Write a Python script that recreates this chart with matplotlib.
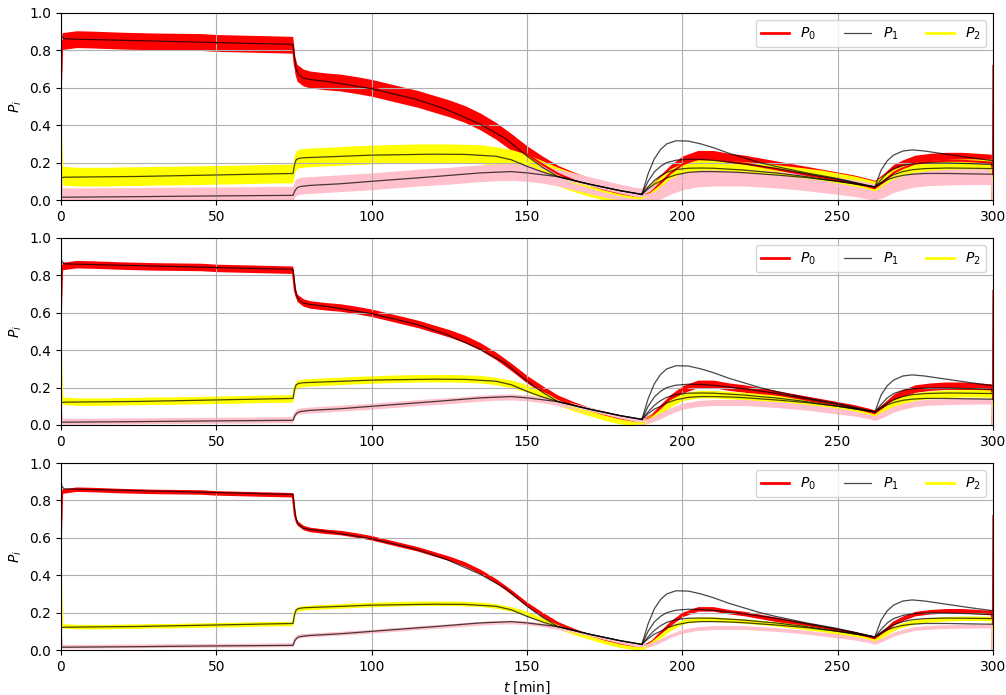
import numpy as np
import matplotlib.pyplot as plt
from matplotlib.lines import Line2D

# ---- measured traces (mean level of each signal) ----
T_DATA = [0, 0.4, 5, 10, 15, 20, 25, 30, 35, 40, 45, 50, 55, 60, 65, 70, 74.6, 75.3, 76, 78, 80,
          85, 90, 95, 100, 105, 110, 115, 120, 125, 130, 135, 140, 145, 150, 155, 160, 165, 170,
          175, 180, 185, 187, 190, 193, 196, 200, 205, 210, 215, 220, 225, 230, 235, 240, 245,
          250, 255, 260, 262, 265, 268, 271, 275, 280, 285, 290, 295, 299.5, 299.8, 300]

P0_MEAN = [0.62, 0.85, 0.86, 0.858, 0.855, 0.852, 0.85, 0.848, 0.847, 0.846, 0.845, 0.84, 0.838,
           0.836, 0.834, 0.832, 0.83, 0.72, 0.68, 0.655, 0.645, 0.635, 0.628, 0.615, 0.6, 0.58,
           0.56, 0.54, 0.515, 0.49, 0.46, 0.42, 0.37, 0.31, 0.245, 0.19, 0.14, 0.105, 0.075, 0.05,
           0.03, 0.015, 0.015, 0.04, 0.09, 0.14, 0.19, 0.22, 0.22, 0.205, 0.195, 0.18, 0.165,
           0.15, 0.135, 0.12, 0.105, 0.09, 0.07, 0.06, 0.1, 0.145, 0.17, 0.195, 0.205, 0.21, 0.21,
           0.205, 0.2, 0.0, 0.72]

P1_MEAN = [0.08, 0.02, 0.02, 0.02, 0.021, 0.022, 0.022, 0.023, 0.024, 0.024, 0.025, 0.025, 0.026,
           0.026, 0.027, 0.028, 0.028, 0.06, 0.072, 0.078, 0.08, 0.085, 0.09, 0.095, 0.1, 0.107,
           0.113, 0.12, 0.125, 0.13, 0.137, 0.143, 0.148, 0.15, 0.145, 0.135, 0.12, 0.1, 0.08,
           0.06, 0.04, 0.022, 0.02, 0.03, 0.05, 0.075, 0.1, 0.115, 0.12, 0.12, 0.12, 0.115, 0.11,
           0.103, 0.095, 0.085, 0.075, 0.065, 0.05, 0.04, 0.06, 0.085, 0.1, 0.115, 0.122, 0.125,
           0.127, 0.128, 0.128, 0.0, 0.1]

P2_MEAN = [0.36, 0.13, 0.125, 0.125, 0.125, 0.127, 0.128, 0.13, 0.13, 0.132, 0.133, 0.135, 0.136,
           0.138, 0.14, 0.141, 0.142, 0.2, 0.22, 0.225, 0.228, 0.232, 0.236, 0.24, 0.243, 0.246,
           0.248, 0.25, 0.25, 0.25, 0.248, 0.245, 0.235, 0.22, 0.195, 0.16, 0.125, 0.095, 0.07,
           0.045, 0.025, 0.01, 0.01, 0.035, 0.075, 0.115, 0.15, 0.165, 0.165, 0.16, 0.155, 0.148,
           0.14, 0.13, 0.12, 0.11, 0.095, 0.08, 0.06, 0.05, 0.085, 0.115, 0.135, 0.152, 0.162,
           0.167, 0.17, 0.17, 0.168, 0.0, 0.13]

# noise half-width of each signal in the three experiments (top to bottom)
P0_SPREAD = [0.045, 0.02, 0.012]
P1_SPREAD = [0.045, 0.016, 0.01]
P2_SPREAD = [0.05, 0.02, 0.012]

# ---- model curves ----
MODEL_T_P0 = [0, 0.3, 1, 5, 10, 25, 50, 74.7, 75.2, 75.7, 76.5, 78, 80, 86, 100, 114, 124, 135,
              143, 150, 155, 160, 170, 180, 187]
MODEL_P0 = [0.9, 0.875, 0.862, 0.86, 0.858, 0.852, 0.842, 0.832, 0.76, 0.7, 0.67, 0.652, 0.645,
            0.633, 0.595, 0.54, 0.485, 0.405, 0.33, 0.235, 0.175, 0.125, 0.085, 0.05, 0.03]

MODEL_T_P2 = [0, 0.3, 1, 25, 50, 74.7, 75.2, 75.7, 76.5, 78, 86, 100, 120, 130, 140, 145, 150,
              155, 160, 170, 180, 187]
MODEL_P2 = [0.115, 0.12, 0.122, 0.126, 0.134, 0.142, 0.19, 0.215, 0.222, 0.226, 0.231, 0.24,
            0.245, 0.244, 0.234, 0.215, 0.18, 0.15, 0.125, 0.085, 0.05, 0.03]

MODEL_T_P1 = [0, 1, 25, 50, 74.7, 75.3, 76, 77, 80, 90, 100, 120, 135, 145, 150, 155, 160, 170,
              180, 187]
MODEL_P1 = [0.015, 0.015, 0.018, 0.022, 0.025, 0.05, 0.065, 0.072, 0.078, 0.087, 0.1, 0.125,
            0.145, 0.152, 0.145, 0.135, 0.125, 0.085, 0.05, 0.03]

# predictions after the two restarts
BRANCH_T = [187, 189, 191, 193, 195, 198, 202, 206, 210, 215, 220, 225, 230, 240, 250, 262,
            264, 266, 268, 271, 274, 278, 285, 292, 300]
BRANCH_A = [0.03, 0.14, 0.22, 0.27, 0.30, 0.317, 0.315, 0.30, 0.28, 0.25, 0.225, 0.2, 0.18,
            0.145, 0.115, 0.07, 0.16, 0.21, 0.24, 0.262, 0.268, 0.262, 0.245, 0.228, 0.21]
BRANCH_B = [0.03, 0.10, 0.15, 0.18, 0.20, 0.213, 0.218, 0.217, 0.212, 0.203, 0.193, 0.182, 0.17,
            0.14, 0.11, 0.07, 0.11, 0.145, 0.168, 0.185, 0.193, 0.198, 0.198, 0.195, 0.19]
BRANCH_C = [0.03, 0.07, 0.105, 0.13, 0.148, 0.163, 0.17, 0.171, 0.17, 0.165, 0.16, 0.152, 0.145,
            0.125, 0.1, 0.07, 0.095, 0.118, 0.135, 0.152, 0.162, 0.168, 0.171, 0.17, 0.168]
BRANCH_D = [0.03, 0.06, 0.085, 0.10, 0.118, 0.135, 0.148, 0.152, 0.152, 0.15, 0.146, 0.14, 0.134,
            0.12, 0.1, 0.07, 0.09, 0.108, 0.12, 0.132, 0.138, 0.142, 0.142, 0.14, 0.138]

X_TICKS = [0, 50, 100, 150, 200, 250, 300]
Y_TICKS = [0.0, 0.2, 0.4, 0.6, 0.8, 1.0]

RED, PINK, YELLOW = "#ff0000", "#ffc0cb", "#ffff00"

fig = plt.figure(figsize=(10.06, 6.95), dpi=100)
left, width = 0.0606, 0.9264
bottoms = [0.7122, 0.3885, 0.0647]
height = 0.2691

t = np.array(T_DATA)
n_body = len(T_DATA) - 2   # last two samples are the reset at the end of the run


def draw_signal(ax, mean, spread, color):
    m = np.array(mean)
    lo = np.clip(m - spread, 0, None)
    hi = m + spread
    ax.fill_between(t[:n_body], lo[:n_body], hi[:n_body], color=color, linewidth=0)
    ax.plot(t[:n_body], m[:n_body], color=color, lw=1.5)
    ax.plot(t[n_body - 1:], m[n_body - 1:], color=color, lw=0.8)


for k, b in enumerate(bottoms):
    ax = fig.add_axes([left, b, width, height])
    draw_signal(ax, P0_MEAN, P0_SPREAD[k], RED)
    draw_signal(ax, P2_MEAN, P2_SPREAD[k], YELLOW)
    draw_signal(ax, P1_MEAN, P1_SPREAD[k], PINK)

    mk = dict(color="k", lw=0.9, alpha=0.72)
    ax.plot(MODEL_T_P0, MODEL_P0, **mk)
    ax.plot(MODEL_T_P2, MODEL_P2, **mk)
    ax.plot(MODEL_T_P1, MODEL_P1, **mk)
    for br in (BRANCH_A, BRANCH_B, BRANCH_C, BRANCH_D):
        ax.plot(BRANCH_T, br, **mk)

    ax.set_xlim(0, 300)
    ax.set_ylim(0, 1)
    ax.set_xticks(X_TICKS)
    ax.set_yticks(Y_TICKS)
    ax.grid(True)
    ax.set_ylabel(r"$P_i$")

    handles = [Line2D([], [], color=RED, lw=2),
               Line2D([], [], color="k", lw=0.9, alpha=0.72),
               Line2D([], [], color=YELLOW, lw=2)]
    ax.legend(handles, [r"$P_0$", r"$P_1$", r"$P_2$"], loc="upper right", ncol=3)

    if k == 2:
        ax.set_xlabel(r"$t$ [min]")

fig.savefig("out.png", dpi=100)
